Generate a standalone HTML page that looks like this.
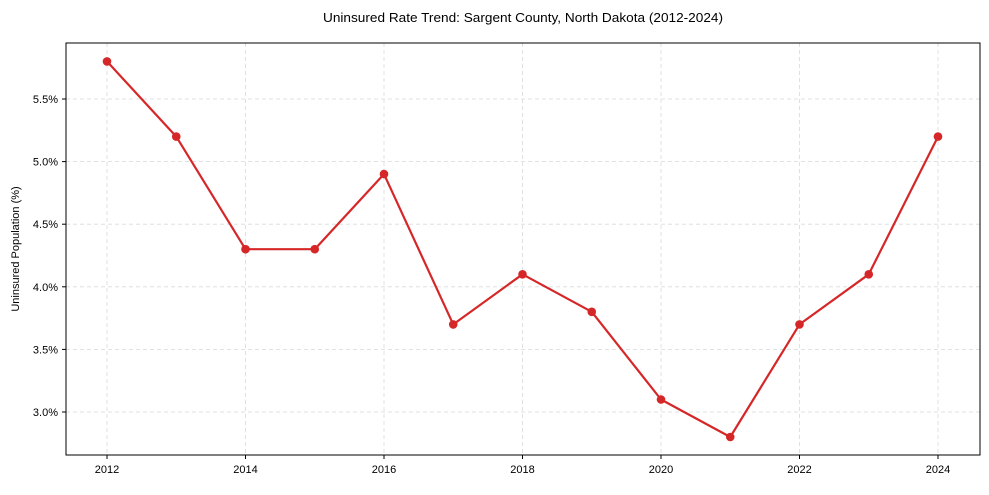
<!DOCTYPE html>
<html><head><meta charset="utf-8"><style>
body{margin:0;background:#fff;}
svg text{font-family:"Liberation Sans",Arial,sans-serif;fill:#000;}
</style></head><body>
<svg width="989" height="490" viewBox="0 0 989 490" xmlns="http://www.w3.org/2000/svg">
<rect width="989" height="490" fill="#fff"/>
<text x="523" y="22" font-size="13" text-anchor="middle" textLength="400" lengthAdjust="spacingAndGlyphs">Uninsured Rate Trend: Sargent County, North Dakota (2012-2024)</text>
<g stroke="#d9d9d9" stroke-width="0.8" stroke-dasharray="4,3">
<line x1="107" y1="43" x2="107" y2="455"/><line x1="245.5" y1="43" x2="245.5" y2="455"/>
<line x1="384" y1="43" x2="384" y2="455"/><line x1="522.5" y1="43" x2="522.5" y2="455"/>
<line x1="661" y1="43" x2="661" y2="455"/><line x1="799.5" y1="43" x2="799.5" y2="455"/>
<line x1="938" y1="43" x2="938" y2="455"/>
<line x1="66" y1="99" x2="980" y2="99"/><line x1="66" y1="161.6" x2="980" y2="161.6"/>
<line x1="66" y1="224.2" x2="980" y2="224.2"/><line x1="66" y1="286.8" x2="980" y2="286.8"/>
<line x1="66" y1="349.4" x2="980" y2="349.4"/><line x1="66" y1="412" x2="980" y2="412"/>
</g>
<rect x="66" y="43" width="914" height="412" fill="none" stroke="#000" stroke-width="1"/>
<g stroke="#000" stroke-width="1">
<line x1="107" y1="455" x2="107" y2="459"/><line x1="245.5" y1="455" x2="245.5" y2="459"/>
<line x1="384" y1="455" x2="384" y2="459"/><line x1="522.5" y1="455" x2="522.5" y2="459"/>
<line x1="661" y1="455" x2="661" y2="459"/><line x1="799.5" y1="455" x2="799.5" y2="459"/>
<line x1="938" y1="455" x2="938" y2="459"/>
<line x1="62" y1="99" x2="66" y2="99"/><line x1="62" y1="161.6" x2="66" y2="161.6"/>
<line x1="62" y1="224.2" x2="66" y2="224.2"/><line x1="62" y1="286.8" x2="66" y2="286.8"/>
<line x1="62" y1="349.4" x2="66" y2="349.4"/><line x1="62" y1="412" x2="66" y2="412"/>
</g>
<g font-size="11" text-anchor="middle">
<text x="107" y="473">2012</text><text x="245.5" y="473">2014</text><text x="384" y="473">2016</text>
<text x="522.5" y="473">2018</text><text x="661" y="473">2020</text><text x="799.5" y="473">2022</text><text x="938" y="473">2024</text>
</g>
<g font-size="11" text-anchor="end">
<text x="58" y="103">5.5%</text><text x="58" y="165.6">5.0%</text><text x="58" y="228.2">4.5%</text>
<text x="58" y="290.8">4.0%</text><text x="58" y="353.4">3.5%</text><text x="58" y="416">3.0%</text>
</g>
<text transform="translate(19,249) rotate(-90)" font-size="11" text-anchor="middle">Uninsured Population (%)</text>
<polyline fill="none" stroke="#d62728" stroke-width="2.2" stroke-linejoin="round" points="107,61.4 176.25,136.6 245.5,249.2 314.75,249.2 384,174.1 453.25,324.4 522.5,274.3 591.75,311.8 661,399.5 730.25,437 799.5,324.4 868.75,274.3 938,136.6"/>
<g fill="#d62728">
<circle cx="107" cy="61.4" r="4.3"/><circle cx="176.25" cy="136.6" r="4.3"/><circle cx="245.5" cy="249.2" r="4.3"/>
<circle cx="314.75" cy="249.2" r="4.3"/><circle cx="384" cy="174.1" r="4.3"/><circle cx="453.25" cy="324.4" r="4.3"/>
<circle cx="522.5" cy="274.3" r="4.3"/><circle cx="591.75" cy="311.8" r="4.3"/><circle cx="661" cy="399.5" r="4.3"/>
<circle cx="730.25" cy="437" r="4.3"/><circle cx="799.5" cy="324.4" r="4.3"/><circle cx="868.75" cy="274.3" r="4.3"/>
<circle cx="938" cy="136.6" r="4.3"/>
</g>
</svg>
</body></html>
